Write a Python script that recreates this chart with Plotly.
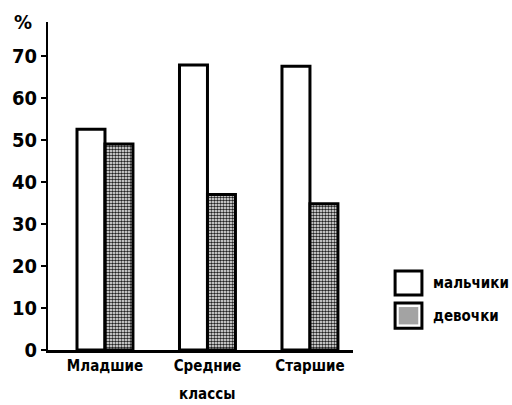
import plotly.graph_objects as go

# Share of pupils (%) by school level and sex
categories = ["Младшие", "Средние", "Старшие"]
boys = [52.5, 67.8, 67.5]
girls = [49.0, 37.0, 34.8]
series_names = ["мальчики", "девочки"]
y_ticks = [0, 10, 20, 30, 40, 50, 60, 70]
axis_title_x = "классы"
axis_title_y = "%"

FONT = "DejaVu Sans Condensed, Liberation Sans, Arial, sans-serif"

girls_pattern = dict(shape=".", fgcolor="#222222", bgcolor="white",
                     size=3, solidity=0.55, fillmode="replace")

fig = go.Figure()
fig.add_trace(go.Bar(
    x=categories, y=boys, name=series_names[0],
    marker=dict(color="white", line=dict(color="black", width=3)),
    showlegend=False,
))
fig.add_trace(go.Bar(
    x=categories, y=girls, name=series_names[1],
    marker=dict(color="white", pattern=girls_pattern,
                line=dict(color="black", width=3)),
    showlegend=False,
))

# Hand-built legend: large outlined squares with labels on the right
legend_x0, legend_size = 1.138, 0.088
legend_rows = [(0.168, 0.241), (0.066, 0.143)]
for (y0, y1), name, trace in zip(legend_rows, series_names, fig.data):
    fig.add_shape(type="rect", xref="paper", yref="paper",
                  x0=legend_x0, x1=legend_x0 + legend_size, y0=y0, y1=y1,
                  line=dict(color="black", width=3),
                  fillcolor="white", layer="above")
    if trace.marker.pattern.shape:
        fig.add_shape(type="rect", xref="paper", yref="paper",
                      x0=legend_x0 + 0.012, x1=legend_x0 + legend_size - 0.012,
                      y0=y0 + 0.012, y1=y1 - 0.012,
                      line=dict(width=0), fillcolor="#8c8c8c", opacity=0.8,
                      layer="above")
    fig.add_annotation(xref="paper", yref="paper",
                       x=legend_x0 + legend_size + 0.03, y=(y0 + y1) / 2,
                       text=name, showarrow=False, xanchor="left",
                       yanchor="middle",
                       font=dict(family=FONT, size=15, color="black",
                                 weight="bold"))

fig.add_annotation(xref="paper", yref="paper", x=-0.045, y=1.0,
                   text=axis_title_y, showarrow=False, xanchor="right",
                   yanchor="middle",
                   font=dict(family=FONT, size=20, color="black",
                             weight="bold"))
fig.add_annotation(xref="x", yref="paper", x=1, y=-0.133,
                   text=axis_title_x, showarrow=False, xanchor="center",
                   yanchor="middle",
                   font=dict(family=FONT, size=15, color="black",
                             weight="bold"))

fig.update_layout(
    width=512, height=405,
    margin=dict(l=48, r=159, t=22, b=55, pad=0),
    paper_bgcolor="white", plot_bgcolor="white",
    barmode="group", bargap=0.454, bargroupgap=0,
    font=dict(family=FONT, color="black"),
)
fig.update_xaxes(
    type="category", range=[-0.556, 2.42],
    showline=True, linecolor="black", linewidth=3,
    ticks="", showgrid=False, zeroline=False,
    tickfont=dict(family=FONT, size=15, color="black", weight="bold"),
)
fig.update_yaxes(
    range=[0, 78], tickvals=y_ticks,
    showline=True, linecolor="black", linewidth=2,
    ticks="outside", ticklen=5, tickwidth=2, tickcolor="black",
    showgrid=False, zeroline=False,
    tickfont=dict(family=FONT, size=20, color="black", weight="bold"),
)

fig.write_html("out.html")
